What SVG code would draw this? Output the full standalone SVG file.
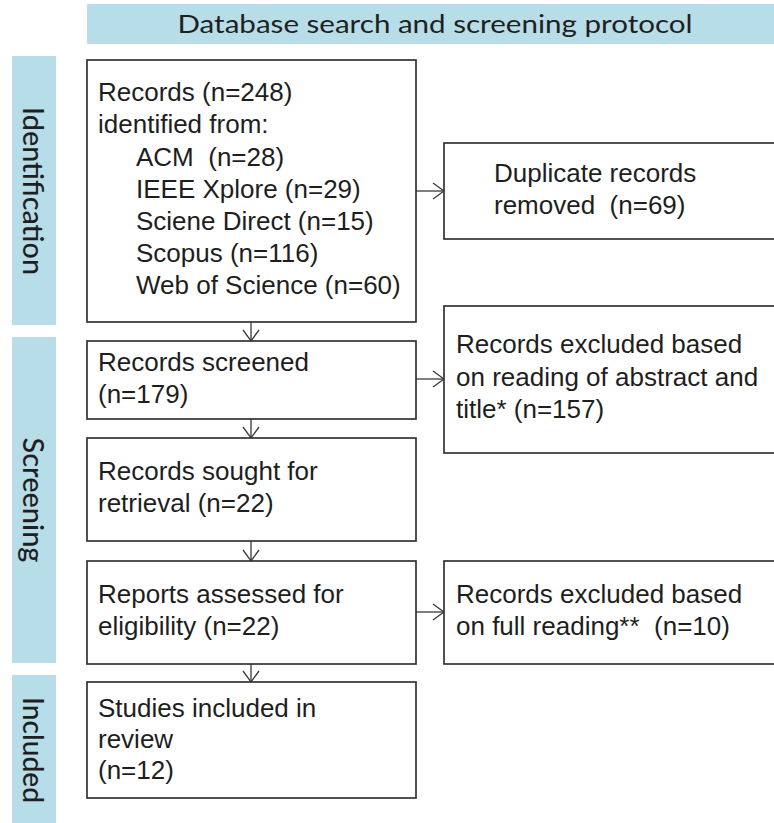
<svg xmlns="http://www.w3.org/2000/svg" width="774" height="823" viewBox="0 0 774 823">
  <style>
    .band { fill: #b7dde8; }
    .head { font-family: Lato, "Open Sans", sans-serif; font-size: 25px; fill: #1f1f1f; }
    .side { font-family: Lato, "Open Sans", sans-serif; font-size: 28px; font-weight: 500; fill: #1f1f1f; }
    .box { fill: #ffffff; stroke: #333333; stroke-width: 1.7; }
    .t { font-family: "Liberation Sans", Arial, sans-serif; font-size: 26px; fill: #1e1e1e; white-space: pre; }
    .conn { fill: none; stroke: #3a3a3a; stroke-width: 1.3; }
  </style>
  <defs>
    <marker id="arr" markerUnits="userSpaceOnUse" markerWidth="14" markerHeight="20" viewBox="-1 -9 14 18" refX="11" refY="0" orient="auto">
      <path d="M0,-8 L11,0 L0,8" fill="none" stroke="#3a3a3a" stroke-width="1.3"/>
    </marker>
  </defs>
  <rect width="774" height="823" fill="#ffffff"/>

  <g id="title">
    <rect class="band" x="87" y="4" width="687" height="40"/>
    <text class="head" x="435" y="33" text-anchor="middle" textLength="515" lengthAdjust="spacingAndGlyphs">Database search and screening protocol</text>
  </g>

  <g id="phase-identification">
    <rect class="band" x="12" y="56" width="44" height="269"/>
    <text class="side" transform="translate(23,191) rotate(90)" text-anchor="middle" textLength="168" lengthAdjust="spacingAndGlyphs">Identification</text>
  </g>
  <g id="phase-screening">
    <rect class="band" x="12" y="337" width="44" height="326"/>
    <text class="side" transform="translate(23,500) rotate(90)" text-anchor="middle" textLength="125" lengthAdjust="spacingAndGlyphs">Screening</text>
  </g>
  <g id="phase-included">
    <rect class="band" x="12" y="675" width="44" height="150"/>
    <text class="side" transform="translate(23,750) rotate(90)" text-anchor="middle" textLength="106" lengthAdjust="spacingAndGlyphs">Included</text>
  </g>

  <g id="connectors">
    <line class="conn" x1="251" y1="310" x2="251" y2="341" marker-end="url(#arr)"/>
    <line class="conn" x1="251" y1="419" x2="251" y2="438" marker-end="url(#arr)"/>
    <line class="conn" x1="251" y1="541" x2="251" y2="561" marker-end="url(#arr)"/>
    <line class="conn" x1="251" y1="664" x2="251" y2="682" marker-end="url(#arr)"/>
    <line class="conn" x1="416" y1="191" x2="444" y2="191" marker-end="url(#arr)"/>
    <line class="conn" x1="416" y1="379" x2="444" y2="379" marker-end="url(#arr)"/>
    <line class="conn" x1="416" y1="612" x2="444" y2="612" marker-end="url(#arr)"/>
  </g>

  <g id="records-identified">
    <rect class="box" x="87" y="60" width="329" height="262"/>
    <text class="t" x="98" y="101">Records (n=248)</text>
    <text class="t" x="98" y="133">identified from:</text>
    <text class="t" x="136" y="166">ACM  (n=28)</text>
    <text class="t" x="136" y="198">IEEE Xplore (n=29)</text>
    <text class="t" x="136" y="230">Sciene Direct (n=15)</text>
    <text class="t" x="136" y="262">Scopus (n=116)</text>
    <text class="t" x="136" y="294">Web of Science (n=60)</text>
  </g>

  <g id="duplicates-removed">
    <rect class="box" x="444" y="143" width="340" height="96"/>
    <text class="t" x="494" y="182">Duplicate records</text>
    <text class="t" x="494" y="214">removed  (n=69)</text>
  </g>

  <g id="records-screened">
    <rect class="box" x="87" y="341" width="329" height="78"/>
    <text class="t" x="98" y="371">Records screened</text>
    <text class="t" x="98" y="403">(n=179)</text>
  </g>

  <g id="excluded-abstract">
    <rect class="box" x="444" y="306" width="340" height="147"/>
    <text class="t" x="456" y="353">Records excluded based</text>
    <text class="t" x="456" y="386">on reading of abstract and</text>
    <text class="t" x="456" y="418">title* (n=157)</text>
  </g>

  <g id="sought-retrieval">
    <rect class="box" x="87" y="438" width="329" height="103"/>
    <text class="t" x="98" y="480">Records sought for</text>
    <text class="t" x="98" y="512">retrieval (n=22)</text>
  </g>

  <g id="assessed-eligibility">
    <rect class="box" x="87" y="561" width="329" height="103"/>
    <text class="t" x="98" y="603">Reports assessed for</text>
    <text class="t" x="98" y="635">eligibility (n=22)</text>
  </g>

  <g id="excluded-full">
    <rect class="box" x="444" y="561" width="340" height="103"/>
    <text class="t" x="456" y="603">Records excluded based</text>
    <text class="t" x="456" y="635">on full reading**  (n=10)</text>
  </g>

  <g id="studies-included">
    <rect class="box" x="87" y="682" width="329" height="116"/>
    <text class="t" x="98" y="717">Studies included in</text>
    <text class="t" x="98" y="748">review</text>
    <text class="t" x="98" y="779">(n=12)</text>
  </g>
</svg>
